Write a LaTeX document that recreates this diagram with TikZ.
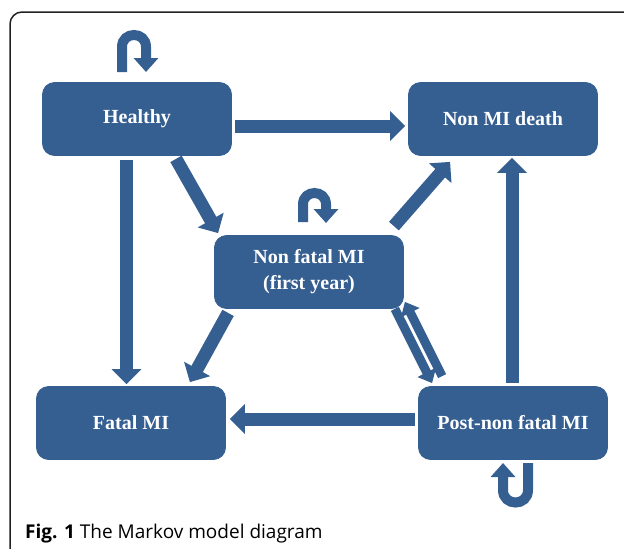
\documentclass[tikz,border=0pt]{standalone}
\usepackage{fontspec}
\setmainfont{Liberation Serif}
\newfontfamily\capfont{Open Sans}
\usetikzlibrary{arrows.meta}
\definecolor{mblue}{HTML}{365F91}
\definecolor{frameline}{HTML}{222222}
\tikzset{
  statebox/.style={draw=mblue, line width=0.8pt, fill=mblue, rounded corners=12pt,
    minimum width=189pt, minimum height=73pt, inner sep=0pt, text=white,
    align=center, font=\bfseries\fontsize{20}{26}\selectfont},
  bigarrow/.style={draw=mblue, line width=13pt, -{Triangle[width=29pt,length=15pt]}},
  thinarrow/.style={draw=mblue, line width=9pt, -{Triangle[width=20pt,length=12pt]}},
  looparrow/.style={draw=mblue, line width=10pt, -{Triangle[width=24pt,length=14pt]}},
}
\begin{document}
\begin{tikzpicture}[x=1pt,y=-1pt]
\useasboundingbox (0,0) rectangle (624,549);
% frame
\draw[frameline, line width=1.5pt, rounded corners=12pt] (10,552) -- (10,12) -- (630,12);
% states
\node[statebox] (h)  at (137,119)   {Healthy};
\node[statebox] (n)  at (503,119)   {Non MI death};
\node[statebox] (f)  at (309,272) {Non fatal MI\\(first year)};
\node[statebox] (fm) at (131,423)   {Fatal MI};
\node[statebox] (p)  at (513,423)   {Post-non fatal MI};
% transitions
\draw[bigarrow] ([shift={(3,7)}]h.east) -- ([shift={(-3,7)}]n.west);
\draw[bigarrow] ([shift={(-10.5,4)}]h.south) -- ([shift={(-4.5,-2)}]fm.north);
\draw[bigarrow] ([shift={(39,3)}]h.south) -- ([shift={(4,-2)}]f.north west);
\draw[bigarrow] ([shift={(-10,-9)}]f.north east) -- ([shift={(42,6)}]n.south west);
\draw[bigarrow] ([shift={(14,4)}]f.south west) -- ([shift={(-36,-4)}]fm.north east);
\draw[thinarrow] ([shift={(-9,0)}]f.south east) -- ([shift={(14,-3)}]p.north west);
\draw[thinarrow] ([shift={(24,-10)}]p.north west) -- ([shift={(1,-7)}]f.south east);
\draw[bigarrow] ([shift={(-3,-4)}]p.west) -- ([shift={(4,-4)}]fm.east);
\draw[bigarrow] ([shift={(-1,-3)}]p.north) -- ([shift={(9,2)}]n.south);
% self loops
\draw[looparrow] (122,72) -- (122,47) .. controls (122,31) and (146,31) .. (146,47) -- (146,72);
\draw[looparrow] (303,222) -- (303,204.5) .. controls (303,189.2) and (326,189.2) .. (326,204.5) -- (326,223);
\draw[looparrow] (528,463) -- (528,490) .. controls (528,506.7) and (503,506.7) .. (503,490) -- (503,463);
% caption
\node[anchor=base west, inner sep=0pt, font=\capfont\fontsize{19}{22}\selectfont] (cap) at (25,538)
  {\textbf{Fig. 1} The Markov model diagram};
\end{tikzpicture}
\end{document}
